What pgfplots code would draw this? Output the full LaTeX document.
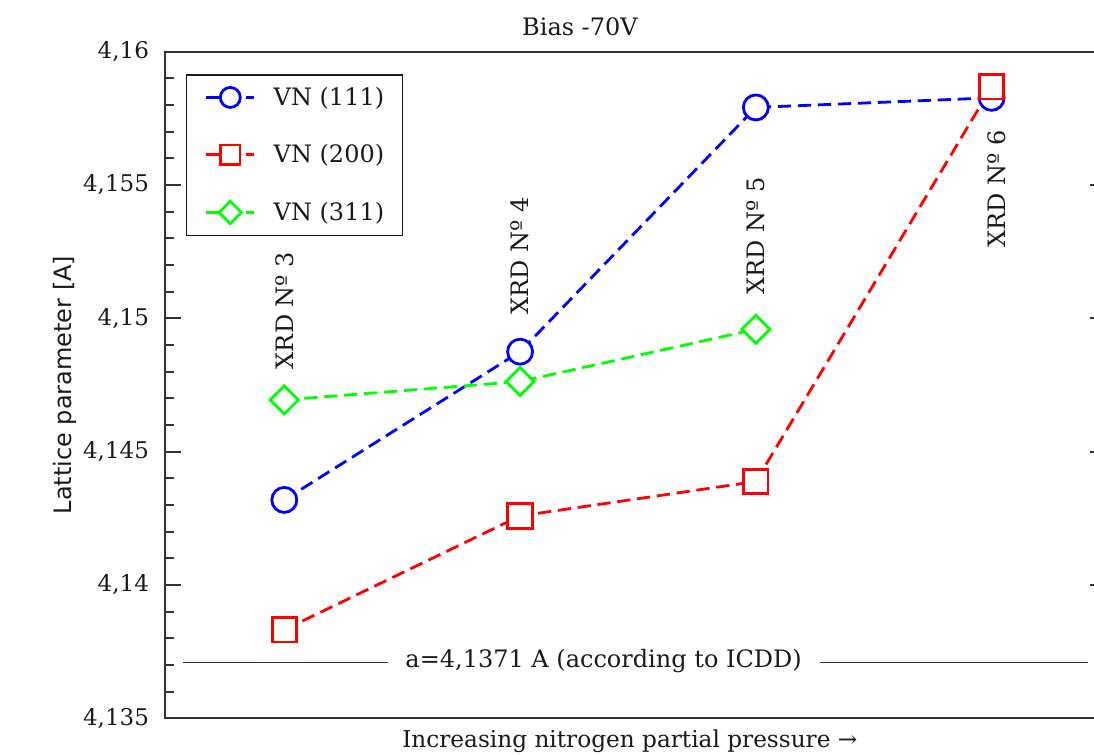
\documentclass[border=0pt]{standalone}
\usepackage{fontspec}
\setmainfont{DejaVu Serif}
\newfontfamily\dvsans{DejaVu Sans}
\usepackage{pgfplots}
\pgfplotsset{compat=1.18}
\usetikzlibrary{calc}
\definecolor{axgray}{HTML}{333333}
\definecolor{txt}{HTML}{1A1A1A}
\begin{document}
\begin{tikzpicture}
\begin{axis}[
  scale only axis, width=470.5pt, height=333.3pt,
  xmin=2.494, xmax=6.485, ymin=4.135, ymax=4.16,
  xtick=\empty,
  ytick={4.135,4.14,4.145,4.15,4.155,4.16},
  minor y tick num=4,
  tick align=inside,
  major tick length=7.8pt, minor tick length=4.5pt,
  axis line style={axgray, line width=0.9pt},
  tick style={axgray, line width=0.9pt},
  yticklabel style={font=\fontsize{11.5}{13}\selectfont, text=txt, xshift=-4.5pt,
    /pgf/number format/.cd, use comma, fixed, precision=3, assume math mode=true},
  title={Bias -70V},
  title style={at={(axis description cs:0.441,1)}, anchor=base, yshift=1.9pt,
    font=\fontsize{12}{14}\selectfont, text=txt},
  xlabel={Increasing nitrogen partial pressure →},
  xlabel style={at={(axis description cs:0.494,0)}, anchor=base, yshift=-14.8pt,
    font=\fontsize{11.6}{14}\selectfont, text=txt},
  ylabel={Lattice parameter [A]},
  ylabel style={at={(axis description cs:-0.0991,0.5)}, anchor=base,
    font=\dvsans\fontsize{12}{14}\selectfont, text=txt},
  legend style={at={(axis description cs:0.022,0.9665)}, anchor=north west,
    draw=txt, line width=0.8pt, fill=white, font=\fontsize{12}{14}\selectfont,
    text=txt, inner xsep=9.2pt, inner ysep=6pt, row sep=18pt, column sep=9pt,
    nodes={inner sep=0pt}, cells={anchor=west}},
  legend image code/.code={\draw[mark repeat=2,mark phase=2] plot coordinates {(0pt,0pt) (12pt,0pt) (24pt,0pt)};},
  legend image post style={/tikz/every mark/.append style={scale=0.8}},
]
\addplot[blue, line width=1.4pt, dash pattern=on 6.65pt off 3.35pt, mark=*, mark size=6.25pt,
  mark options={solid, fill=white}] coordinates {
  (3,4.14319) (4,4.14875) (5,4.15791) (6,4.15827)};
\addlegendentry{VN (111)}
\addplot[red, line width=1.4pt, dash pattern=on 6.65pt off 3.35pt, mark=square*, mark size=6.1pt,
  mark options={solid, fill=white}] coordinates {
  (3,4.13832) (4,4.14259) (5,4.14388) (6,4.15868)};
\addlegendentry{VN (200)}
\addplot[green, line width=1.4pt, dash pattern=on 6.65pt off 3.35pt, mark=square*, mark size=4.95pt,
  mark options={solid, fill=white, rotate=45}] coordinates {
  (3,4.14694) (4,4.14763) (5,4.14959)};
\addlegendentry{VN (311)}
\addplot[axgray, line width=0.7pt, forget plot] coordinates {(2.572,4.1371) (3.440,4.1371)};
\addplot[axgray, line width=0.7pt, forget plot] coordinates {(5.272,4.1371) (6.410,4.1371)};
\node[anchor=mid, inner sep=0pt, font=\fontsize{12}{14}\selectfont, text=txt]
  at (axis cs:4.3545,4.1371) {a=4,1371 A (according to ICDD)};
\node[rotate=90, anchor=west, inner sep=0pt, font=\fontsize{12}{14}\selectfont, text=txt]
  at (axis cs:3,4.14808) {XRD Nº 3};
\node[rotate=90, anchor=west, inner sep=0pt, font=\fontsize{12}{14}\selectfont, text=txt]
  at (axis cs:4,4.15012) {XRD Nº 4};
\node[rotate=90, anchor=west, inner sep=0pt, font=\fontsize{12}{14}\selectfont, text=txt]
  at (axis cs:5,4.15088) {XRD Nº 5};
\node[rotate=90, anchor=west, inner sep=0pt, font=\fontsize{12}{14}\selectfont, text=txt]
  at (axis cs:6.02,4.15264) {XRD Nº 6};
\end{axis}
\pgfresetboundingbox
\useasboundingbox ($(current axis.south west)+(-82.5pt,-18.35pt)$) rectangle ($(current axis.south west)+(464.5pt,359.15pt)$);
\end{tikzpicture}
\end{document}
